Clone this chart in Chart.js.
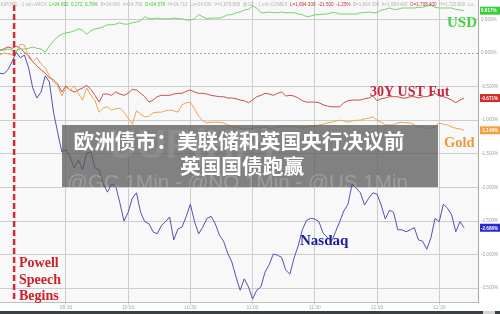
<!DOCTYPE html>
<html><head><meta charset="utf-8">
<script src="https://cdn.jsdelivr.net/npm/chart.js@4/dist/chart.umd.min.js"></script>
<style>html,body{margin:0;padding:0;background:#fff;overflow:hidden}canvas{display:block}</style>
</head><body><canvas id="c" width="500" height="314"></canvas>
<script>
// ---- data ----
const times = ["08:58",
"09:00","09:02","09:04","09:06","09:08","09:10","09:12","09:14","09:16","09:18","09:20","09:22","09:24","09:26","09:28","09:30","09:32","09:34","09:36","09:38","09:40","09:42","09:44","09:46","09:48","09:50","09:52","09:54","09:56","09:58",
"10:00","10:02","10:04","10:06","10:08","10:10","10:12","10:14","10:16","10:18","10:20","10:22","10:24","10:26","10:28","10:30","10:32","10:34","10:36","10:38","10:40","10:42","10:44","10:46","10:48","10:50","10:52","10:54","10:56","10:58",
"11:00","11:02","11:04","11:06","11:08","11:10","11:12","11:14","11:16","11:18","11:20","11:22","11:24","11:26","11:28","11:30","11:32","11:34","11:36","11:38","11:40","11:42","11:44","11:46","11:48","11:50","11:52","11:54","11:56","11:58",
"12:00","12:02","12:04","12:06","12:08","12:10","12:12","12:14","12:16","12:18","12:20","12:22","12:24","12:26","12:28","12:30","12:32","12:34","12:36","12:38","12:40","12:42"];

const usd = [0.04,0.04,0.06,0.04,0.04,0.06,0.06,0.07,0.09,0.07,0.06,
0.01,0.10,0.18,0.24,0.28,0.30,0.31,0.33,0.36,0.34,
0.28,0.33,0.36,0.37,0.39,0.42,0.42,0.43,0.45,0.43,
0.43,0.45,0.46,0.48,0.54,0.51,0.51,0.52,0.51,0.51,
0.51,0.52,0.51,0.51,0.49,0.49,0.51,0.57,0.54,0.51,
0.52,0.52,0.52,0.54,0.57,0.57,0.60,0.61,0.64,0.65,
0.70,0.67,0.60,0.60,0.61,0.60,0.60,0.61,0.60,0.60,
0.60,0.58,0.57,0.54,0.55,0.57,0.57,0.58,0.58,0.60,
0.60,0.58,0.58,0.58,0.58,0.58,0.60,0.60,0.61,0.60,
0.60,0.64,0.65,0.67,0.65,0.65,0.67,0.67,0.67,0.67,
0.68,0.68,0.70,0.71,0.68,0.67,0.67,0.67,0.67,0.65,0.64,0.63];

const ust30 = [0.04,0.06,0.09,0.07,0.10,0.07,0.01,-0.04,-0.13,-0.19,-0.25,
-0.30,-0.37,-0.40,-0.46,-0.58,-0.49,-0.55,-0.58,-0.55,-0.52,
-0.48,-0.54,-0.63,-0.73,-0.61,-0.61,-0.63,-0.58,-0.61,-0.63,
-0.60,-0.54,-0.55,-0.60,-0.65,-0.73,-0.70,-0.65,-0.63,-0.63,
-0.63,-0.61,-0.60,-0.60,-0.57,-0.55,-0.58,-0.60,-0.60,-0.61,
-0.63,-0.64,-0.65,-0.65,-0.67,-0.67,-0.68,-0.70,-0.71,-0.74,
-0.70,-0.65,-0.63,-0.60,-0.61,-0.63,-0.60,-0.58,-0.64,-0.63,
-0.64,-0.67,-0.71,-0.73,-0.73,-0.73,-0.74,-0.77,-0.79,-0.80,
-0.80,-0.80,-0.74,-0.71,-0.70,-0.70,-0.70,-0.68,-0.67,-0.64,
-0.71,-0.68,-0.67,-0.65,-0.65,-0.65,-0.67,-0.67,-0.65,-0.65,
-0.67,-0.65,-0.65,-0.63,-0.60,-0.64,-0.65,-0.67,-0.70,-0.74,-0.70,-0.67];

const gold = [-0.03,0.00,-0.01,-0.03,0.01,0.13,0.12,-0.07,-0.13,-0.07,-0.16,
-0.22,-0.34,-0.43,-0.49,-0.64,-0.51,-0.55,-0.49,-0.60,-0.70,
-0.52,-0.63,-0.71,-0.88,-0.82,-0.80,-0.85,-0.83,-0.82,-0.88,
-0.97,-1.06,-0.86,-0.91,-0.95,-0.94,-0.89,-0.88,-0.88,-0.86,
-0.85,-0.86,-0.88,-0.77,-0.74,-0.73,-0.83,-0.94,-1.01,-1.04,
-1.03,-1.03,-1.03,-1.04,-1.07,-1.10,-1.10,-1.12,-1.13,-1.13,
-1.12,-1.10,-1.12,-1.10,-1.12,-1.12,-1.10,-1.09,-1.10,-1.09,
-1.10,-1.10,-1.12,-1.10,-1.09,-1.09,-1.07,-1.06,-1.04,-1.03,
-1.01,-1.00,-1.01,-1.03,-1.01,-1.00,-1.00,-0.98,-0.97,-0.95,
-1.00,-1.03,-1.07,-1.07,-1.07,-1.04,-1.03,-1.04,-1.04,-1.07,
-1.10,-1.10,-1.12,-1.12,-1.09,-1.04,-1.06,-1.07,-1.10,-1.12,-1.13,-1.15];

const nasdaq = [-0.30,-0.31,-0.25,-0.13,0.01,-0.07,-0.03,-0.22,-0.52,-0.67,-0.58,
-0.34,-0.43,-0.88,-1.18,-1.47,-1.44,-1.55,-1.71,-1.59,-1.74,
-1.49,-1.47,-1.71,-1.74,-1.95,-2.07,-1.95,-1.98,-2.23,-2.50,
-2.37,-2.16,-2.08,-2.37,-2.51,-2.54,-2.66,-2.69,-2.57,-2.51,
-2.44,-2.78,-2.62,-2.59,-2.43,-2.25,-2.51,-2.69,-2.59,-2.46,
-2.43,-2.54,-2.71,-2.80,-2.98,-3.11,-3.33,-3.53,-3.36,-3.48,
-3.66,-3.53,-3.48,-3.26,-3.15,-2.99,-3.01,-3.04,-3.23,-3.29,
-3.05,-2.87,-2.63,-2.49,-2.46,-2.47,-2.51,-2.68,-2.74,-2.81,
-2.66,-2.51,-2.35,-2.25,-1.95,-2.01,-2.08,-2.26,-2.16,-2.08,
-2.10,-2.26,-2.47,-2.34,-2.37,-2.63,-2.63,-2.66,-2.63,-2.60,
-2.78,-2.80,-2.92,-2.75,-2.46,-2.51,-2.25,-2.31,-2.41,-2.66,-2.51,-2.60];

const xTickLabels = ["09:30","10:00","10:30","11:00","11:30","12:00","12:30"];
const yTickValues = [0.5,0,-0.5,-1,-1.5,-2,-2.5,-3,-3.5];
const lastTags = ["0.617%","-0.671%","-1.146%","-2.686%"];
const seriesNames = ["USD","30Y UST Fut","Gold","Nasdaq"];
const powellTime = "09:05";
const titleLines = ["欧洲债市：美联储和英国央行决议前","英国国债跑赢"];

// ---- helpers ----
const toMin = s => { const p = s.split(':'); return (+p[0])*60 + (+p[1]); };
const pts = arr => arr.map((v,i) => ({x: toMin(times[i]), y: v}));

const lineColors = ["#74d468","#c85050","#eba558","#5252b2"];
const tagColors  = ["#3ecb3e","#d12b2b","#f0a040","#2a2acb"];

const bgPlugin = {
  id: 'bg',
  beforeDraw(chart) {
    const {ctx, chartArea: a} = chart;
    ctx.save();
    ctx.fillStyle = '#ffffff';
    ctx.fillRect(0,0,chart.width,chart.height);
    ctx.fillStyle = '#f8f8f8';
    ctx.fillRect(a.left, a.top, a.right - a.left, a.bottom - a.top);
    ctx.restore();
  },
  beforeDatasetsDraw(chart) {
    const {ctx, chartArea: a, scales: {y}} = chart;
    const yz = Math.round(y.getPixelForValue(0)) + 0.5;
    ctx.save();
    ctx.strokeStyle = '#a8a8a8';
    ctx.lineWidth = 1;
    ctx.setLineDash([2,2]);
    ctx.beginPath(); ctx.moveTo(a.left, yz); ctx.lineTo(a.right, yz); ctx.stroke();
    ctx.restore();
  }
};

const overlayPlugin = {
  id: 'overlay',
  afterDatasetsDraw(chart) {
    const {ctx, chartArea: a, scales: {x, y}} = chart;
    ctx.save();
    // Powell dashed line
    const px = x.getPixelForValue(toMin(powellTime));
    ctx.strokeStyle = '#d42a33';
    ctx.lineWidth = 2.5;
    ctx.setLineDash([6,3]);
    ctx.beginPath(); ctx.moveTo(px, 5); ctx.lineTo(px, a.bottom); ctx.stroke();
    ctx.setLineDash([]);

    // series labels
    ctx.textBaseline = 'alphabetic';
    ctx.textAlign = 'left';
    ctx.font = 'bold 15px "Liberation Serif", serif';
    ctx.fillStyle = '#46d046';
    ctx.fillText(seriesNames[0], 447, 27);
    ctx.font = 'bold 14px "Liberation Serif", serif';
    ctx.fillStyle = '#c2283c';
    ctx.fillText(seriesNames[1], 370, 96);
    ctx.font = 'bold 14.5px "Liberation Serif", serif';
    ctx.fillStyle = '#e8983e';
    ctx.fillText(seriesNames[2], 444, 147);
    ctx.font = 'bold 15px "Liberation Serif", serif';
    ctx.fillStyle = '#1c1ca2';
    ctx.fillText(seriesNames[3], 300, 245);
    ctx.font = 'bold 14px "Liberation Serif", serif';
    ctx.fillStyle = '#d0202c';
    ctx.fillText('Powell', 19, 267);
    ctx.fillText('Speech', 19, 284);
    ctx.fillText('Begins', 19, 300);

    // right-axis last value tags
    const lasts = [usd, ust30, gold, nasdaq].map(s => s[s.length-1]);
    ctx.font = 'bold 4.6px "Liberation Sans", sans-serif';
    ctx.textBaseline = 'middle';
    lasts.forEach((v,i) => {
      const py = y.getPixelForValue(v);
      ctx.fillStyle = tagColors[i];
      ctx.fillRect(a.right + 2, py - 4, 20, 8);
      ctx.fillStyle = '#ffffff';
      ctx.fillText(lastTags[i], a.right + 3, py + 0.5);
    });

    // header quote line
    const grey = '#b4b4b4', gr = '#3cc23c', rd = '#c23232';
    const segs = [
      ["@UUP(HP) - 1 min ARCX  ", grey],["L=24.692  0.172  0.79%", gr],["  B=24.690  A=24.700  ", grey],
      ["O=24.576", gr],["  H=24.710  Lo=24.630  V=1,679,885  @GC - 1 min COMEX  ", grey],
      ["L=1,694.300  -21.500  -1.25%", rd],["  B=1,694.300  A=1,694.400  ", grey],["O=1,708.400", rd],
      ["  H=1,723.600  Lo...", grey]];
    ctx.font = '10px "Liberation Sans", sans-serif';
    let tot = 0; segs.forEach(s => tot += ctx.measureText(s[0]).width);
    const fs = 10 * 484 / tot;
    ctx.font = fs.toFixed(2) + 'px "Liberation Sans", sans-serif';
    let hx = -6;
    segs.forEach(s => { ctx.fillStyle = s[1]; ctx.fillText(s[0], hx, 4.5); hx += ctx.measureText(s[0]).width; });

    // grey title box
    ctx.fillStyle = 'rgba(88,88,88,0.74)';
    ctx.fillRect(62, 125, 376, 62);
    // faint watermarks seen through the box
    ctx.save();
    ctx.beginPath(); ctx.rect(62,125,376,62); ctx.clip();
    ctx.textBaseline = 'alphabetic';
    ctx.font = 'bold 40px "Liberation Sans", sans-serif';
    ctx.fillStyle = 'rgba(255,255,255,0.10)';
    ctx.fillText('UUP(HP)', 108, 158);
    ctx.font = '21px "Liberation Sans", sans-serif';
    ctx.fillStyle = 'rgba(255,255,255,0.22)';
    const wm = '@GC 1Min - @NQ 1Min - @US 1Min';
    const ww = ctx.measureText(wm).width;
    ctx.save(); ctx.translate(67, 189); ctx.scale(341/ww, 1); ctx.fillText(wm, 0, 0); ctx.restore();
    ctx.restore();
    // title text
    ctx.fillStyle = '#ffffff';
    ctx.textAlign = 'center';
    ctx.textBaseline = 'middle';
    ctx.font = 'bold 20.7px "Noto Sans CJK SC", sans-serif';
    ctx.fillText(titleLines[0], 239, 141);
    ctx.fillText(titleLines[1], 242, 166);
    ctx.restore();
  },
  afterDraw(chart) {
    const {ctx} = chart;
    ctx.save();
    ctx.fillStyle = '#3c3f46';
    ctx.fillRect(0, 311, 500, 3);
    ctx.fillStyle = '#d6d6d6';
    ctx.fillRect(483, 311, 12, 3);
    ctx.restore();
  }
};

const mk = (label, arr, i) => ({
  label, data: pts(arr), borderColor: lineColors[i], borderWidth: 1,
  pointRadius: 0, tension: 0, fill: false
});

new Chart(document.getElementById('c'), {
  type: 'line',
  data: { datasets: [mk(seriesNames[3], nasdaq, 3), mk(seriesNames[0], usd, 0), mk(seriesNames[2], gold, 2), mk(seriesNames[1], ust30, 1)]
    .map((d, k) => d) },
  options: {
    responsive: false, animation: false, devicePixelRatio: 1,
    layout: { padding: { left: 0, right: 0, top: 0, bottom: 3 } },
    plugins: { legend: { display: false }, tooltip: { enabled: false } },
    scales: {
      x: {
        type: 'linear', position: 'bottom', min: 538.2, max: 768.7,
        afterBuildTicks: s => { s.ticks = xTickLabels.map(t => ({ value: toMin(t) })); },
        afterFit: s => { s.height = 9; s.paddingLeft = 0; s.paddingRight = 0; },
        ticks: {
          autoSkip: false, maxRotation: 0, padding: 0, color: '#a8a8a8',
          font: { size: 5, family: '"Liberation Sans", sans-serif' },
          callback: v => { const h = Math.floor(v/60), m = v%60; return String(h).padStart(2,'0') + ':' + String(m).padStart(2,'0'); }
        },
        grid: { color: '#cdcdcd', lineWidth: 1, tickLength: 3 },
        border: { color: '#bdbdbd' }
      },
      y: {
        type: 'linear', position: 'right', min: -3.705, max: 0.789,
        afterBuildTicks: s => { s.ticks = yTickValues.map(v => ({ value: v })); },
        afterFit: s => { s.width = 22; s.paddingTop = 0; s.paddingBottom = 0; },
        ticks: {
          padding: 3, color: '#a0a0a0',
          font: { size: 4.6, family: '"Liberation Sans", sans-serif' },
          callback: v => v.toFixed(3) + '%'
        },
        grid: { drawTicks: false, lineWidth: 1, color: c => (c.tick && c.tick.value === 0) ? 'rgba(0,0,0,0)' : '#cdcdcd' },
        border: { color: '#a8a8a8' }
      }
    }
  },
  plugins: [bgPlugin, overlayPlugin]
});
</script>
</body></html>
